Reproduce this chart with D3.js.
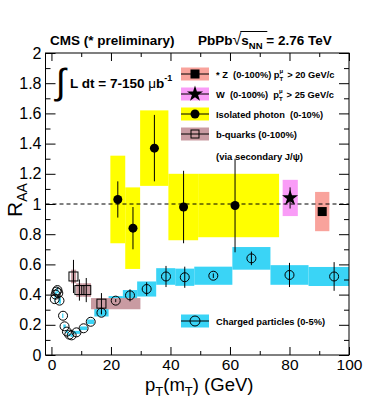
<!DOCTYPE html>
<html><head><meta charset="utf-8">
<script src="https://cdn.jsdelivr.net/npm/d3@7"></script>
<style>body{margin:0;background:#fff}text{font-family:"Liberation Sans",Arial,Helvetica,sans-serif;white-space:pre}</style>
</head><body><svg id="c" width="374" height="406"></svg>
<script>
// ---------- data ----------
const xMajorTicks=[0,20,40,60,80,100];
const xMinorTicks=[10,30,50,70,90];
const yMajorTicks=[0,0.2,0.4,0.6,0.8,1,1.2,1.4,1.6,1.8,2];
const yMinorTicks=[0.1,0.3,0.5,0.7,0.9,1.1,1.3,1.5,1.7,1.9];

const chargedPt =[1.1,1.4,1.7,2.0,2.3,2.7,3.9,4.4,5.2,6.0,6.8,8.4,10.8,13.2,16.8,21.6,26.4,32.0,38.5,44.8,54.4,67.2,80.0,95.0];
const chargedRaa=[0.37,0.40,0.42,0.43,0.41,0.36,0.26,0.19,0.155,0.135,0.13,0.15,0.177,0.22,0.28,0.36,0.395,0.437,0.52,0.515,0.525,0.64,0.53,0.52];
const chargedLo =[1.0,1.2,1.6,1.8,2.2,2.4,3.6,4.0,4.8,5.6,6.4,7.2,9.6,12.0,14.4,19.2,24.0,28.8,35.2,41.6,48.0,60.8,73.6,86.4];
const chargedHi =[1.2,1.6,1.8,2.2,2.4,3.2,4.0,4.8,5.6,6.4,7.2,9.6,12.0,14.4,19.2,24.0,28.8,35.2,41.6,48.0,60.8,73.6,86.4,103.6];
const chargedSys=[0.02,0.02,0.02,0.02,0.02,0.02,0.015,0.012,0.01,0.01,0.01,0.01,0.012,0.015,0.025,0.03,0.035,0.05,0.055,0.057,0.06,0.075,0.065,0.063];
const chargedStat=[0,0,0,0,0,0,0,0,0,0,0,0,0,0,0.01,0.01,0.04,0.045,0.07,0.07,0.015,0.045,0.08,0.095];

const photonPt  =[22.3,27.4,34.6,44.4,61.7];
const photonRaa =[1.03,0.84,1.37,0.98,0.99];
const photonStat=[0.12,0.14,0.22,0.24,0.31];
const photonLo  =[19.8,24.8,29.8,39.3,49.3];
const photonHi  =[24.8,29.8,39.3,49.3,76.5];
const photonSys =[0.29,0.27,0.25,0.22,0.21];

const bPt  =[7.4,9.4,11.7,16.8];
const bRaa =[0.52,0.43,0.43,0.34];
const bStat=[0.11,0.07,0.08,0.07];
const bLo  =[6.6,8.3,10.5,13.3];
const bHi  =[8.3,10.5,13.3,29.9];
const bSys =[0.045,0.045,0.045,0.037];

const wPt=[80.2], wRaa=[1.04], wStat=[0.07], wLo=[77.7], wHi=[82.8], wSys=[0.12];
const zPt=[91.0], zRaa=[0.95], zStat=[0.025], zLo=[88.6], zHi=[93.4], zSys=[0.13];

// ---------- setup ----------
const svg=d3.select("#c");
const L=45.5,R=349,T=53,B=355;
const x=d3.scaleLinear().domain([-2,100]).range([L,R]);
const y=d3.scaleLinear().domain([0,2]).range([B,T]);

const colCharged="#3ad4f6", colPhoton="#ffff00", colB="#c99ba2", colW="#f99cf7", colZ="#f9a39c";

function rows(pt,v,lo,hi,sys,stat){return pt.map((p,i)=>({p,v:v[i],lo:lo[i],hi:hi[i],sys:sys[i],stat:stat[i]}));}
const charged=rows(chargedPt,chargedRaa,chargedLo,chargedHi,chargedSys,chargedStat);
const photon=rows(photonPt,photonRaa,photonLo,photonHi,photonSys,photonStat);
const bq=rows(bPt,bRaa,bLo,bHi,bSys,bStat);
const wb=rows(wPt,wRaa,wLo,wHi,wSys,wStat);
const zb=rows(zPt,zRaa,zLo,zHi,zSys,zStat);

svg.append("clipPath").attr("id","pc").append("rect").attr("x",L).attr("y",T).attr("width",R-L).attr("height",B-T);
const plot=svg.append("g").attr("clip-path","url(#pc)");

function boxes(data,col){
  plot.append("g").selectAll("rect").data(data).join("rect")
    .attr("x",d=>x(d.lo)).attr("width",d=>x(d.hi)-x(d.lo))
    .attr("y",d=>y(d.v+d.sys)).attr("height",d=>y(d.v-d.sys)-y(d.v+d.sys))
    .attr("fill",col);
}
boxes(charged,colCharged);
boxes(bq,colB);
boxes(photon,colPhoton);
boxes(wb,colW);
boxes(zb,colZ);

// dashed line at 1
plot.append("line").attr("x1",L).attr("x2",R).attr("y1",y(1)).attr("y2",y(1))
  .attr("stroke","#000").attr("stroke-width",1).attr("stroke-dasharray","4,3");

function errs(data){
  plot.append("g").selectAll("line").data(data.filter(d=>d.stat>0)).join("line")
    .attr("x1",d=>x(d.p)).attr("x2",d=>x(d.p))
    .attr("y1",d=>y(d.v+d.stat)).attr("y2",d=>y(d.v-d.stat))
    .attr("stroke","#000").attr("stroke-width",1);
}
[charged,bq,photon,wb,zb].forEach(errs);

// markers
plot.append("g").selectAll("circle").data(charged).join("circle")
  .attr("cx",d=>x(d.p)).attr("cy",d=>y(d.v)).attr("r",4.5)
  .attr("fill","none").attr("stroke","#000").attr("stroke-width",1);
plot.append("g").selectAll("rect").data(bq).join("rect")
  .attr("x",d=>x(d.p)-4.5).attr("y",d=>y(d.v)-4.5).attr("width",9).attr("height",9)
  .attr("fill","none").attr("stroke","#000").attr("stroke-width",1);
plot.append("g").selectAll("circle").data(photon).join("circle")
  .attr("cx",d=>x(d.p)).attr("cy",d=>y(d.v)).attr("r",4.5).attr("fill","#000");
plot.append("g").selectAll("path").data(wb).join("path")
  .attr("d",d3.symbol(d3.symbolStar,80))
  .attr("transform",d=>`translate(${x(d.p)},${y(d.v)})`).attr("fill","#000");
plot.append("g").selectAll("rect").data(zb).join("rect")
  .attr("x",d=>x(d.p)-4.5).attr("y",d=>y(d.v)-4.5).attr("width",9).attr("height",9).attr("fill","#000");

// ---------- axes ----------
const fmt=v=>String(+v.toFixed(1));
function styleAxis(g,fs){g.select(".domain").remove();g.selectAll("line").attr("stroke","#000");g.selectAll("text").attr("font-size",fs).attr("fill","#000").attr("font-family",null);}
svg.append("g").attr("transform",`translate(0,${B})`)
  .call(d3.axisBottom(x).tickValues(xMajorTicks).tickSize(-8).tickPadding(4).tickFormat(fmt)).call(g=>styleAxis(g,15.5));
svg.append("g").attr("transform",`translate(0,${B})`)
  .call(d3.axisBottom(x).tickValues(xMinorTicks).tickSize(-4).tickFormat("")).call(g=>styleAxis(g,15.5));
svg.append("g").attr("transform",`translate(0,${T})`)
  .call(d3.axisTop(x).tickValues(xMajorTicks).tickSize(-8).tickFormat("")).call(g=>styleAxis(g,16));
svg.append("g").attr("transform",`translate(0,${T})`)
  .call(d3.axisTop(x).tickValues(xMinorTicks).tickSize(-4).tickFormat("")).call(g=>styleAxis(g,16));
svg.append("g").attr("transform",`translate(${L},0)`)
  .call(d3.axisLeft(y).tickValues(yMajorTicks).tickSize(-10).tickPadding(4).tickFormat(fmt)).call(g=>styleAxis(g,16));
svg.append("g").attr("transform",`translate(${L},0)`)
  .call(d3.axisLeft(y).tickValues(yMinorTicks).tickSize(-5).tickFormat("")).call(g=>styleAxis(g,16));
svg.append("g").attr("transform",`translate(${R},0)`)
  .call(d3.axisRight(y).tickValues(yMajorTicks).tickSize(-10).tickFormat("")).call(g=>styleAxis(g,16));
svg.append("g").attr("transform",`translate(${R},0)`)
  .call(d3.axisRight(y).tickValues(yMinorTicks).tickSize(-5).tickFormat("")).call(g=>styleAxis(g,16));
svg.append("rect").attr("x",L).attr("y",T).attr("width",R-L).attr("height",B-T)
  .attr("fill","none").attr("stroke","#000").attr("stroke-width",1);

// ---------- titles ----------
const yl=svg.append("text").attr("transform","translate(22,200) rotate(-90)").attr("text-anchor","middle").attr("font-size",21);
yl.append("tspan").text("R");
yl.append("tspan").attr("font-size",14).attr("dy",5).text("AA");

const xl=svg.append("text").attr("x",145).attr("y",391).attr("font-size",18.5);
xl.append("tspan").text("p");
xl.append("tspan").attr("font-size",13).attr("dy",5).text("T");
xl.append("tspan").attr("dy",-5).text("(m");
xl.append("tspan").attr("font-size",13).attr("dy",5).text("T");
xl.append("tspan").attr("dy",-5).text(") (GeV)");

svg.append("text").attr("x",50).attr("y",45).attr("font-size",13.5).attr("font-weight","bold").text("CMS (* preliminary)");
const t2=svg.append("text").attr("x",198).attr("y",45).attr("font-size",13.5).attr("font-weight","bold");
t2.append("tspan").text("PbPb");
t2.append("tspan").attr("font-weight","normal").attr("font-size",16).text("\u221A");
t2.append("tspan").text("s");
t2.append("tspan").attr("font-size",9.5).attr("dy",4).text("NN");
t2.append("tspan").attr("dy",-4).text(" = 2.76 TeV");
{
  const n=t2.node();
  const s0=n.getStartPositionOfChar(5), e0=n.getEndPositionOfChar(8);
  svg.append("line").attr("x1",s0.x-1).attr("x2",e0.x+1).attr("y1",31.5).attr("y2",31.5).attr("stroke","#000").attr("stroke-width",1);
}

// luminosity
svg.append("text").attr("x",56).attr("y",94).attr("font-size",36).attr("font-family","DejaVu Sans").text("\u222B");
const lum=svg.append("text").attr("x",70).attr("y",88).attr("font-size",13.5).attr("font-weight","bold");
lum.append("tspan").text("L dt = 7-150 ");
lum.append("tspan").attr("font-weight","normal").text("\u03BC");
lum.append("tspan").text("b");
lum.append("tspan").attr("font-size",9).attr("dy",-7).text("-1");

// ---------- legend ----------
const LX=181, LW=28, LT=216, LH=13, lfs=9.3;
function legendRow(yc,col,marker,parts,len){
  if(col) svg.append("rect").attr("x",LX).attr("y",yc-LH/2).attr("width",LW).attr("height",LH).attr("fill",col);
  svg.append("line").attr("x1",LX).attr("x2",LX+LW).attr("y1",yc).attr("y2",yc).attr("stroke","#000");
  marker(svg.append("g").attr("transform",`translate(${LX+LW/2},${yc})`));
  let cx=LT;
  parts.forEach(p=>{
    if(p.stack){
      svg.append("text").attr("x",cx).attr("y",yc-1).attr("font-size",6).attr("font-weight","bold").text(p.stack[0]);
      svg.append("text").attr("x",cx).attr("y",yc+7).attr("font-size",6).attr("font-weight","bold").text(p.stack[1]);
      cx+=5;
    } else {
      const t=svg.append("text").attr("x",cx).attr("y",yc+3.5).attr("font-size",lfs).attr("font-weight","bold").text(p);
      if(len) t.attr("textLength",len).attr("lengthAdjust","spacingAndGlyphs");
      cx+=t.node().getComputedTextLength();
    }
  });
}
const sq=(fill)=>g=>g.append("rect").attr("x",-4).attr("y",-4).attr("width",8).attr("height",8).attr("fill",fill).attr("stroke","#000");
legendRow(74,colZ,sq("#000"),["* Z  (0-100%) p",{stack:["\u03BC","T"]}," > 20 GeV/c"]);
legendRow(94,colW,g=>g.append("path").attr("d",d3.symbol(d3.symbolStar,80)).attr("fill","#000"),["W  (0-100%)  p",{stack:["\u03BC","T"]}," > 25 GeV/c"]);
legendRow(114,colPhoton,g=>g.append("circle").attr("r",4.5).attr("fill","#000"),["Isolated photon  (0-10%)"],107);
legendRow(134,colB,sq("none"),["b-quarks (0-100%)"],81);
svg.append("text").attr("x",LT).attr("y",160).attr("font-size",lfs).attr("font-weight","bold")
  .attr("textLength",87).attr("lengthAdjust","spacingAndGlyphs").text("(via secondary J/\u03C8)");
legendRow(321,colCharged,g=>g.append("circle").attr("r",5).attr("fill","none").attr("stroke","#000"),["Charged particles (0-5%)"],109);
</script></body></html>
